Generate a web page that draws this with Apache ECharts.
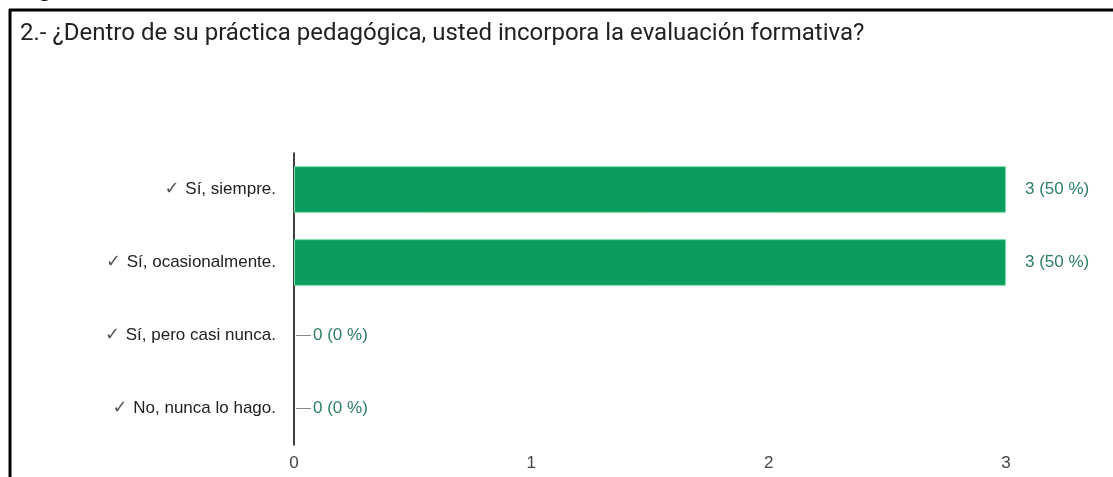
<!DOCTYPE html>
<html>
<head>
<meta charset="utf-8">
<script src="https://cdn.jsdelivr.net/npm/echarts@6/dist/echarts.min.js"></script>
<style>
html,body{margin:0;padding:0;background:#fff;}
#chart{width:1113px;height:477px;}
</style>
</head>
<body>
<div id="chart"></div>
<script>
const titleText = '2.- ¿Dentro de su práctica pedagógica, usted incorpora la evaluación formativa?';
const categories = ['Sí, siempre.', 'Sí, ocasionalmente.', 'Sí, pero casi nunca.', 'No, nunca lo hago.'];
const counts = [3, 3, 0, 0];
const percents = [50, 50, 0, 0];
const xTicks = [0, 1, 2, 3];

const chart = echarts.init(document.getElementById('chart'));
const option = {
  animation: false,
  backgroundColor: '#fff',
  title: {
    text: titleText,
    left: 15, top: 17,
    textStyle: {fontFamily: 'Roboto', fontSize: 24, fontWeight: 'normal', color: '#222'}
  },
  graphic: [
    {type: 'line', shape: {x1: 9, y1: 10, x2: 1113, y2: 10}, style: {stroke: '#000', lineWidth: 3}},
    {type: 'line', shape: {x1: 10, y1: 9, x2: 10, y2: 477}, style: {stroke: '#000', lineWidth: 3}},
    {type: 'text', left: 14, top: -24, style: {text: 'Figura 2', font: 'bold 26px "Liberation Sans"', fill: '#000'}}
  ],
  grid: {left: 294, right: 107, top: 153, bottom: 32, containLabel: false},
  xAxis: {
    type: 'value', min: 0, max: 3, interval: 1,
    axisLine: {show: false}, axisTick: {show: false},
    splitLine: {show: false},
    axisLabel: {
      color: '#444', fontFamily: 'Liberation Sans', fontSize: 17, margin: 10,
      formatter: function (v) { return xTicks.indexOf(v) >= 0 ? String(v) : ''; }
    }
  },
  yAxis: {
    type: 'category', data: categories, inverse: true,
    axisLine: {show: true, lineStyle: {color: '#000', width: 1.5}},
    axisTick: {show: false},
    axisLabel: {
      margin: 18,
      formatter: function (v) { return '{c|✓ }{t|' + v + '}'; },
      rich: {
        c: {color: '#555', fontFamily: 'DejaVu Sans', fontSize: 18},
        t: {color: '#222', fontFamily: 'Liberation Sans', fontSize: 17}
      }
    }
  },
  series: [{
    type: 'bar',
    data: counts.map(function (c, i) {
      return {
        value: c,
        itemStyle: c === 0 ? {borderWidth: 0} : {},
        label: c === 0 ? {distance: 2, formatter: '{l|}{g|}{t|' + c + ' (' + percents[i] + ' %)}'}
                       : {distance: 19, formatter: '{t|' + c + ' (' + percents[i] + ' %)}'}
      };
    }),
    barCategoryGap: '36%',
    itemStyle: {color: '#0a9d5e', borderColor: '#7be0a8', borderWidth: 1},
    label: {
      show: true, position: 'right',
      rich: {
        l: {width: 15, height: 1, backgroundColor: '#888'},
        g: {width: 2},
        t: {color: '#2b7d63', fontFamily: 'Liberation Sans', fontSize: 17}
      }
    }
  }]
};
chart.setOption(option);
</script>
</body>
</html>
